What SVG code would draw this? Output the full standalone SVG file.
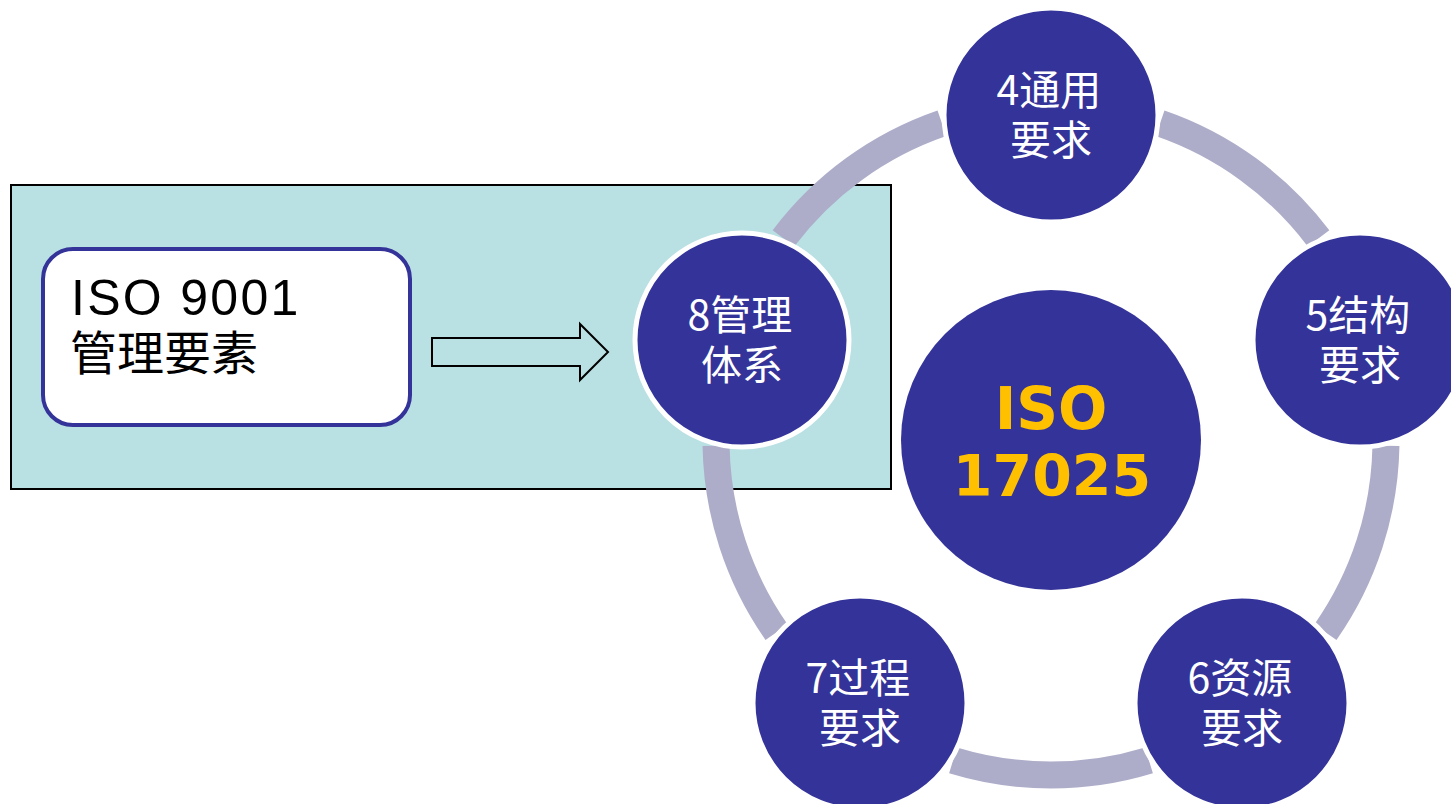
<svg xmlns="http://www.w3.org/2000/svg" width="1451" height="804" viewBox="0 0 1451 804">
<style>
.node{fill:#343399;stroke:#ffffff;stroke-width:5}
.ntxt{font-family:"Noto Sans CJK SC","Noto Sans",sans-serif;font-size:41px;fill:#ffffff;text-anchor:middle}
.ring{fill:none;stroke:#ADADCA;stroke-width:27;stroke-linecap:butt}
.ctr{font-family:"DejaVu Sans",sans-serif;font-weight:bold;font-size:58px;fill:#FFC000;text-anchor:middle}
</style>
<rect x="0" y="0" width="1451" height="804" fill="#ffffff"/>
<g id="panel">
<rect x="11" y="185" width="880" height="304" fill="#B9E0E3" stroke="#000000" stroke-width="2"/>
</g>
<g id="iso9001">
<rect x="43" y="249" width="367" height="176" rx="30" ry="30" fill="#ffffff" stroke="#333399" stroke-width="4"/>
<text font-family="Liberation Sans, Arial, sans-serif" font-size="50" fill="#000000"><tspan x="71" y="315" letter-spacing="2.3">ISO 9001</tspan><tspan x="70" y="370" font-family="Noto Sans CJK SC, sans-serif" font-size="47" letter-spacing="0">管理要素</tspan></text>
</g>
<g id="arrow">
<path d="M432 338 H580 V324 L608 352 L580 380 V366 H432 Z" fill="none" stroke="#000000" stroke-width="2" stroke-linejoin="miter"/>
</g>
<g id="connectors">
<path class="ring" d="M1160.07 123.25 A335 335 0 0 1 1318.54 238.39"/>
<path class="ring" d="M1385.95 445.85 A335 335 0 0 1 1325.42 632.15"/>
<path class="ring" d="M1148.94 760.36 A335 335 0 0 1 953.06 760.36"/>
<path class="ring" d="M776.58 632.15 A335 335 0 0 1 716.05 445.85"/>
<path class="ring" d="M783.46 238.39 A335 335 0 0 1 941.93 123.25"/>
</g>
<g id="center">
<circle cx="1051" cy="440" r="150" fill="#343399"/>
<text class="ctr"><tspan x="1051" y="429">ISO</tspan><tspan x="1052" y="496" font-size="57">17025</tspan></text>
</g>
<g id="n4">
<circle class="node" cx="1051" cy="115" r="107"/>
<text class="ntxt"><tspan x="1049" y="105">4通用</tspan><tspan x="1051" y="155">要求</tspan></text>
</g>
<g id="n5">
<circle class="node" cx="1360" cy="340" r="107"/>
<text class="ntxt"><tspan x="1358" y="330">5结构</tspan><tspan x="1360" y="380">要求</tspan></text>
</g>
<g id="n6">
<circle class="node" cx="1242" cy="703" r="107"/>
<text class="ntxt"><tspan x="1240" y="693">6资源</tspan><tspan x="1242" y="743">要求</tspan></text>
</g>
<g id="n7">
<circle class="node" cx="860" cy="703" r="107"/>
<text class="ntxt"><tspan x="858" y="693">7过程</tspan><tspan x="860" y="743">要求</tspan></text>
</g>
<g id="n8">
<circle class="node" cx="742" cy="340" r="107"/>
<text class="ntxt"><tspan x="740" y="330">8管理</tspan><tspan x="742" y="380">体系</tspan></text>
</g>
</svg>
